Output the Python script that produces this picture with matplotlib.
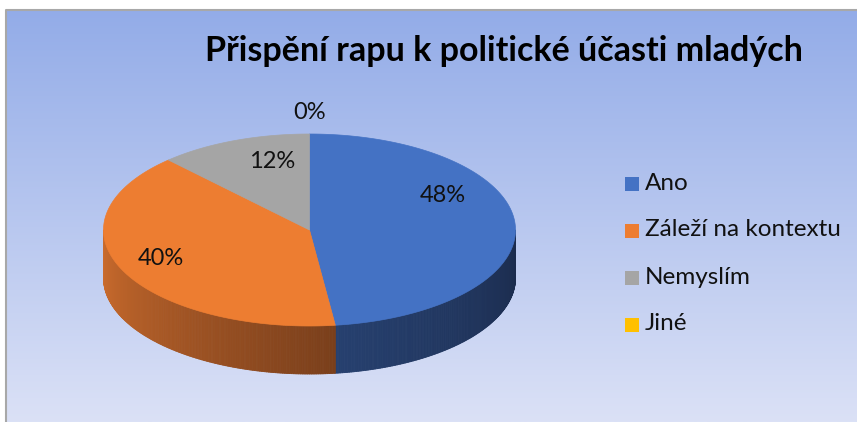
import numpy as np
import matplotlib.pyplot as plt
from matplotlib.patches import Polygon
from matplotlib.collections import PolyCollection
from matplotlib.colors import to_rgb

# Chart data
categories = ['Ano', 'Záleží na kontextu', 'Nemyslím', 'Jiné']
values = [48, 40, 12, 0]
labels = ['48%', '40%', '12%', '0%']
colors = ['#4472c4', '#ed7d31', '#a5a5a5', '#ffc000']
title = 'Přispění rapu k politické účasti mladých'

# Side wall shading (light end, dark end) per slice
side_colors = [('#26406f', '#1b2b4c'), ('#cf6e2e', '#7a3f1b'),
               ('#8a8a8a', '#5a5a5a'), ('#c99800', '#8a6800')]

# Pie geometry in pixels
cx, cy = 309.5, 230
rx, ry = 206, 96
depth = 48
# label offsets (fraction of rx, ry) relative to pie centre
label_pos = [(0.645, -0.355), (-0.72, 0.30), (-0.18, -0.71), (0.0, -1.22)]

plt.rcParams['font.family'] = ['Lato', 'DejaVu Sans']

fig = plt.figure(figsize=(8.57, 4.22), dpi=100)
ax = fig.add_axes([0, 0, 1, 1])
ax.set_xlim(0, 857)
ax.set_ylim(422, 0)
ax.axis('off')

# background gradient inside the chart frame
top = np.array(to_rgb('#93ace8'))
bot = np.array(to_rgb('#dbe1f6'))
t = np.linspace(0, 1, 256)[:, None]
grad = (top * (1 - t) + bot * t)[:, None, :]
ax.imshow(grad, extent=[6, 857, 422, 10], aspect='auto', zorder=0)
ax.plot([6, 6, 857], [422, 10, 10], color='#a8a8a8', lw=1.5, zorder=1)


def ellipse_pt(theta_deg, dy=0.0):
    th = np.radians(theta_deg)
    return cx + rx * np.cos(th), cy - ry * np.sin(th) + dy


# slice angles, clockwise from 12 o'clock
total = float(sum(values))
cum = np.concatenate([[0], np.cumsum(values)]) / total
starts = 90 - 360 * cum[:-1]
ends = 90 - 360 * cum[1:]

# front side walls
step = 0.5
polys, fills = [], []
for i in range(len(values)):
    if values[i] == 0:
        continue
    a0, a1 = ends[i], starts[i]
    for k in (-360, 0, 360):
        lo = max(a0 + k, 180)
        hi = min(a1 + k, 360)
        if hi <= lo:
            continue
        angs = np.arange(lo, hi + step, step)
        angs[-1] = min(angs[-1], hi)
        light = np.array(to_rgb(side_colors[i][0]))
        dark = np.array(to_rgb(side_colors[i][1]))
        for a, b in zip(angs[:-1], angs[1:]):
            x0, y0 = ellipse_pt(a)
            x1, y1 = ellipse_pt(b)
            polys.append([(x0, y0), (x1, y1), (x1, y1 + depth), (x0, y0 + depth)])
            f = (0.5 * (a + b) - lo) / max(hi - lo, 1e-6)
            fills.append(light * (1 - f) + dark * f)
ax.add_collection(PolyCollection(polys, facecolors=fills, edgecolors=fills,
                                 linewidths=0.6, zorder=2))

# top faces
for i in range(len(values)):
    if values[i] == 0:
        continue
    angs = np.linspace(starts[i], ends[i], 200)
    pts = [(cx, cy)] + [ellipse_pt(a) for a in angs]
    ax.add_patch(Polygon(pts, closed=True, facecolor=colors[i],
                         edgecolor=colors[i], lw=0.5, zorder=3))

# data labels
for lab, (fx, fy) in zip(labels, label_pos):
    ax.text(cx + fx * rx, cy + fy * ry, lab, fontsize=17, color='#111111',
            ha='center', va='center', zorder=4)

ax.text(504, 51, title, fontsize=24.5, fontweight='bold', color='black',
        ha='center', va='center', zorder=4)

# legend
leg_y = [183, 230, 277, 324]
for name, col, y in zip(categories, colors, leg_y):
    ax.add_patch(Polygon([(625, y - 6), (639, y - 6), (639, y + 8), (625, y + 8)],
                         closed=True, facecolor=col, edgecolor='none', zorder=4))
    ax.text(645, y, name, fontsize=17.5, color='#111111', ha='left', va='center',
            zorder=4)

fig.savefig('out.png', dpi=100)
